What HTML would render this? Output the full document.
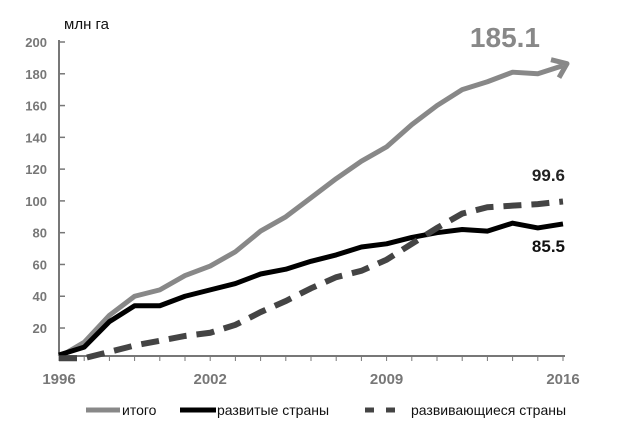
<!DOCTYPE html>
<html><head><meta charset="utf-8"><style>
body{margin:0;background:#fff}
svg{display:block;font-family:"Liberation Sans","DejaVu Sans",sans-serif}
</style></head><body>
<svg id="c" width="632" height="448" viewBox="0 0 632 448">
<text x="64" y="29" font-size="15" fill="#111">млн га</text>
<g id="axes"></g><g id="series"></g>
<text x="540" y="47" font-size="28" font-weight="bold" fill="#888" text-anchor="end">185.1</text>
<text x="565" y="181" font-size="17" font-weight="bold" fill="#222" text-anchor="end">99.6</text>
<text x="565" y="252" font-size="17" font-weight="bold" fill="#111" text-anchor="end">85.5</text>
<g>
<line x1="86" y1="410" x2="120" y2="410" stroke="#888" stroke-width="5"/>
<text x="122" y="415" font-size="14" fill="#111">итого</text>
<line x1="180" y1="410" x2="216" y2="410" stroke="#000" stroke-width="5"/>
<text x="217" y="415" font-size="14" fill="#111">развитые страны</text>
<line x1="365" y1="410" x2="405" y2="410" stroke="#444" stroke-width="5" stroke-dasharray="9,12"/>
<text x="411" y="415" font-size="14" fill="#111">развивающиеся страны</text>
</g>
</svg>
<script>
const years=[1996,1997,1998,1999,2000,2001,2002,2003,2004,2005,2006,2007,2008,2009,2010,2011,2012,2013,2014,2015,2016];
const totalVals=[1.7,11,28,40,44,53,59,68,81,90,102,114,125,134,148,160,170,175,181,180,185.1];
const developedVals=[3,8,24,34,34,40,44,48,54,57,62,66,71,73,77,80,82,81,86,83,85.5];
const developingVals=[1,1,5,9,12,15,17,22,30,37,45,52,56,63,73,83,92,96,97,98,99.6];
const yTicks=[20,40,60,80,100,120,140,160,180,200];
const xLabels=[1996,2002,2009,2016];
const NS="http://www.w3.org/2000/svg";
const x=y=>59+(y-1996)*25.2;
const yv=v=>359.8-v*1.589;
const axes=document.getElementById('axes'),ser=document.getElementById('series');
function mk(t,a,p){const e=document.createElementNS(NS,t);for(const k in a)e.setAttribute(k,a[k]);p.appendChild(e);return e;}
const ya=mk('line',{x1:59,y1:40,x2:59,y2:356,stroke:'#777','stroke-width':2},axes);


const xa=mk('line',{x1:59,y1:356,x2:565,y2:356,stroke:'#777','stroke-width':2},axes);


yTicks.forEach(v=>{
 const tk=mk('line',{x1:59,y1:yv(v),x2:65,y2:yv(v),stroke:'#777','stroke-width':1.5},axes);
 
 
 const t=mk('text',{x:47,y:yv(v)+5,'font-size':13,'font-weight':'bold',fill:'#777','text-anchor':'end'},axes);
 t.textContent=v;
 
 
});
years.forEach(yr=>{
 const tk=mk('line',{x1:x(yr),y1:356,x2:x(yr),y2:361,stroke:'#777','stroke-width':1},axes);
 
 
});
xLabels.forEach(yr=>{
 const t=mk('text',{x:x(yr),y:384,'font-size':15,'font-weight':'bold',fill:'#777','text-anchor':'middle'},axes);
 t.textContent=yr;
 
 
});
function pts(v){return v.map((d,i)=>x(years[i])+','+yv(d)).join(' ');}
const l1=mk('polyline',{points:pts(totalVals),fill:'none',stroke:'#888','stroke-width':5,'stroke-linejoin':'round'},ser);


const n=totalVals.length-1,ex=x(years[n]),ey=yv(totalVals[n]);
const ar=mk('polyline',{points:(ex-12)+','+(ey-6)+' '+(ex+4)+','+(ey-2)+' '+(ex-4)+','+(ey+12),fill:'none',stroke:'#888','stroke-width':5,'stroke-linejoin':'round'},ser);


const l2=mk('polyline',{points:pts(developedVals),fill:'none',stroke:'#000','stroke-width':5,'stroke-linejoin':'round'},ser);


const l3=mk('polyline',{points:pts(developingVals),fill:'none',stroke:'#444','stroke-width':6,'stroke-dasharray':'18,10'},ser);


</script>
</body></html>
